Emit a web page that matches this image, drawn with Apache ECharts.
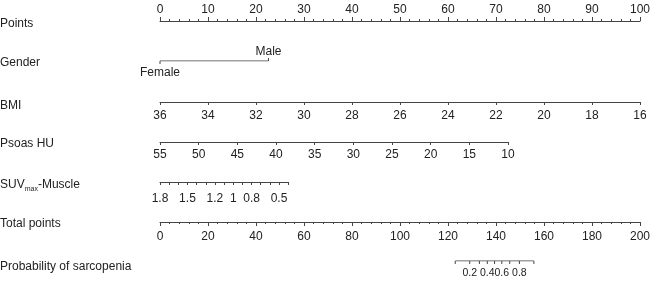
<!DOCTYPE html>
<html><head><meta charset="utf-8">
<script src="https://cdn.jsdelivr.net/npm/echarts@6/dist/echarts.min.js"></script>
<style>html,body{margin:0;padding:0;background:#fff}#c{width:650px;height:281px}</style>
</head><body><div id="c"></div>
<script>
// ---- data ----
const rowTitles = ['Points', 'Gender', 'BMI', 'Psoas HU', 'SUVmax-Muscle', 'Total points', 'Probability of sarcopenia'];
const rowLineY = [20, 61, 102, 142, 182, 222, 261];
const rowTitleY = [25, 64, 107, 145, 186, 225, 268];

const pointsRange = [0, 100];
const pointsInterval = 10;

const genderLevels = ['Female', 'Male'];
const genderPoints = [0, 22.6];

const bmiRange = [16, 36];          // 36 -> 0 points, 16 -> 100 points
const bmiPointSpan = [0, 100];
const bmiInterval = 2;

const psoasRange = [10, 55];        // 55 -> 0 points, 10 -> 72.5 points
const psoasPointSpan = [0, 72.5];
const psoasInterval = 5;

const suvRange = [0.4, 1.8];        // 1.8 -> 0 points, 0.4 -> 26.7 points
const suvPointSpan = [0, 26.7];
const suvInterval = 0.1;
const suvLabels = [1.8, 1.5, 1.2, 1, 0.8, 0.5];

const totalRange = [0, 200];
const totalInterval = 20;

const probTicks = [0.1, 0.2, 0.3, 0.4, 0.5, 0.6, 0.7, 0.8, 0.9];
const probLabels = [0.2, 0.4, 0.6, 0.8];
const probCenterTotal = 139.4;      // total points where probability = 0.5
const probTotalPerLogit = 7.46;     // total points per logit unit

// ---- layout / style ----
const X0 = 160, X1 = 640;
const pxPerPoint = (X1 - X0) / (pointsRange[1] - pointsRange[0]);
const FONT = '"Liberation Sans", Arial, Helvetica, sans-serif';
const TXT = '#222';
const LINE = '#444';

const chart = echarts.init(document.getElementById('c'), null, {renderer: 'canvas'});

const grids = [], xAxes = [], yAxes = [], series = [];
function addGrid(left, width, lineY, bottomPos) {
  grids.push({left: left, width: width, top: bottomPos ? lineY - 1 : lineY, height: 1,
    containLabel: false, outerBoundsMode: 'none'});
  yAxes.push({gridIndex: grids.length - 1, type: 'value', min: 0, max: 1, show: false});
  return grids.length - 1;
}
function axisBase(gi, min, max, interval, pos, inverse) {
  return {
    gridIndex: gi, type: 'value', min: min, max: max, interval: interval, position: pos, inverse: !!inverse,
    splitLine: {show: false},
    axisLine: {show: true, lineStyle: {color: LINE, width: 1}},
    axisTick: {show: true, inside: false, length: 3, lineStyle: {color: LINE, width: 1}},
    axisLabel: {show: true, color: TXT, fontSize: 12, fontFamily: FONT, margin: 8,
      showMinLabel: true, showMaxLabel: true, hideOverlap: false}
  };
}

// Points
let gi = addGrid(X0, X1 - X0, rowLineY[0], false);
let ax = axisBase(gi, pointsRange[0], pointsRange[1], pointsInterval, 'top');
ax.axisTick.length = 4;
ax.minorTick = {show: true, splitNumber: 5, length: 2, lineStyle: {color: LINE, width: 1}};
ax.axisLabel.margin = 4;
xAxes.push(ax);

// Gender
gi = addGrid(X0, X1 - X0, rowLineY[1], true);
xAxes.push({gridIndex: gi, type: 'value', min: pointsRange[0], max: pointsRange[1], show: false});
series.push({type: 'line', xAxisIndex: xAxes.length - 1, yAxisIndex: gi, symbol: 'none', silent: true,
  lineStyle: {color: LINE, width: 1}, data: [[genderPoints[0], 0], [genderPoints[genderPoints.length - 1], 0]]});
series.push({type: 'custom', xAxisIndex: xAxes.length - 1, yAxisIndex: gi, silent: true,
  data: genderPoints.map((p, i) => [p, 0, i]),
  renderItem: function (params, api) {
    const i = api.value(2);
    const c = api.coord([api.value(0), 0]);
    const up = i % 2 === 1;
    return {type: 'group', children: [
      {type: 'line', shape: {x1: c[0], y1: c[1], x2: c[0], y2: c[1] + (up ? -3 : 3)}, style: {stroke: LINE, lineWidth: 1}},
      {type: 'text', x: c[0], y: c[1] + (up ? -9 : 12),
        style: {text: genderLevels[i], align: 'center', verticalAlign: 'middle', fontSize: 12, fontFamily: FONT, fill: TXT}}
    ]};
  }});

// BMI
gi = addGrid(X0 + pxPerPoint * bmiPointSpan[0], pxPerPoint * (bmiPointSpan[1] - bmiPointSpan[0]), rowLineY[2], true);
xAxes.push(axisBase(gi, bmiRange[0], bmiRange[1], bmiInterval, 'bottom', true));

// Psoas HU
gi = addGrid(X0 + pxPerPoint * psoasPointSpan[0], pxPerPoint * (psoasPointSpan[1] - psoasPointSpan[0]), rowLineY[3], true);
ax = axisBase(gi, psoasRange[0], psoasRange[1], psoasInterval, 'bottom', true);
ax.axisLabel.margin = 7;
xAxes.push(ax);

// SUVmax-Muscle
gi = addGrid(X0 + pxPerPoint * suvPointSpan[0], pxPerPoint * (suvPointSpan[1] - suvPointSpan[0]), rowLineY[4], true);
ax = axisBase(gi, suvRange[0], suvRange[1], suvInterval, 'bottom', true);
ax.axisLabel.margin = 11;
ax.axisLabel.formatter = function (v) {
  const r = Math.round(v * 10) / 10;
  return suvLabels.some(s => Math.abs(s - r) < 1e-6) ? String(r) : '';
};
xAxes.push(ax);

// Total points
gi = addGrid(X0, X1 - X0, rowLineY[5], true);
ax = axisBase(gi, totalRange[0], totalRange[1], totalInterval, 'bottom');
ax.axisTick.length = 4;
ax.minorTick = {show: true, splitNumber: 5, length: 2, lineStyle: {color: LINE, width: 1}};
ax.axisLabel.margin = 9;
xAxes.push(ax);

// Probability
gi = addGrid(X0, X1 - X0, rowLineY[6], true);
xAxes.push({gridIndex: gi, type: 'value', min: totalRange[0], max: totalRange[1], show: false});
const probToTotal = p => probCenterTotal + probTotalPerLogit * Math.log(p / (1 - p));
series.push({type: 'line', xAxisIndex: xAxes.length - 1, yAxisIndex: gi, symbol: 'none', silent: true,
  lineStyle: {color: LINE, width: 1},
  data: [[probToTotal(probTicks[0]), 0], [probToTotal(probTicks[probTicks.length - 1]), 0]]});
series.push({type: 'custom', xAxisIndex: xAxes.length - 1, yAxisIndex: gi, silent: true,
  data: probTicks.map(p => [probToTotal(p), 0, p]),
  renderItem: function (params, api) {
    const p = api.value(2);
    const c = api.coord([api.value(0), 0]);
    const children = [{type: 'line', shape: {x1: c[0], y1: c[1], x2: c[0], y2: c[1] + 3}, style: {stroke: LINE, lineWidth: 1}}];
    if (probLabels.some(l => Math.abs(l - p) < 1e-6)) {
      children.push({type: 'text', x: c[0], y: c[1] + 12,
        style: {text: String(p), align: 'center', verticalAlign: 'middle', fontSize: 10.5, fontFamily: FONT, fill: TXT}});
    }
    return {type: 'group', children: children};
  }});

// Row titles
const graphics = rowTitles.map((t, i) => {
  const el = {type: 'text', left: 0, top: rowTitleY[i] - 7, silent: true,
    style: {text: t, fontSize: 12, fontFamily: FONT, fill: TXT}};
  if (t === 'SUVmax-Muscle') {
    el.style.text = '{n|SUV}{s|max}{n|-Muscle}';
    el.style.rich = {n: {fontSize: 12, fontFamily: FONT, fill: TXT, color: TXT, lineHeight: 14, verticalAlign: 'bottom'},
                     s: {fontSize: 7, fontFamily: FONT, fill: TXT, color: TXT, lineHeight: 14, verticalAlign: 'bottom', padding: [0, 0, -2, 0]}};
  }
  return el;
});

chart.setOption({
  animation: false,
  backgroundColor: '#fff',
  grid: grids, xAxis: xAxes, yAxis: yAxes, series: series,
  graphic: graphics
});
</script></body></html>
